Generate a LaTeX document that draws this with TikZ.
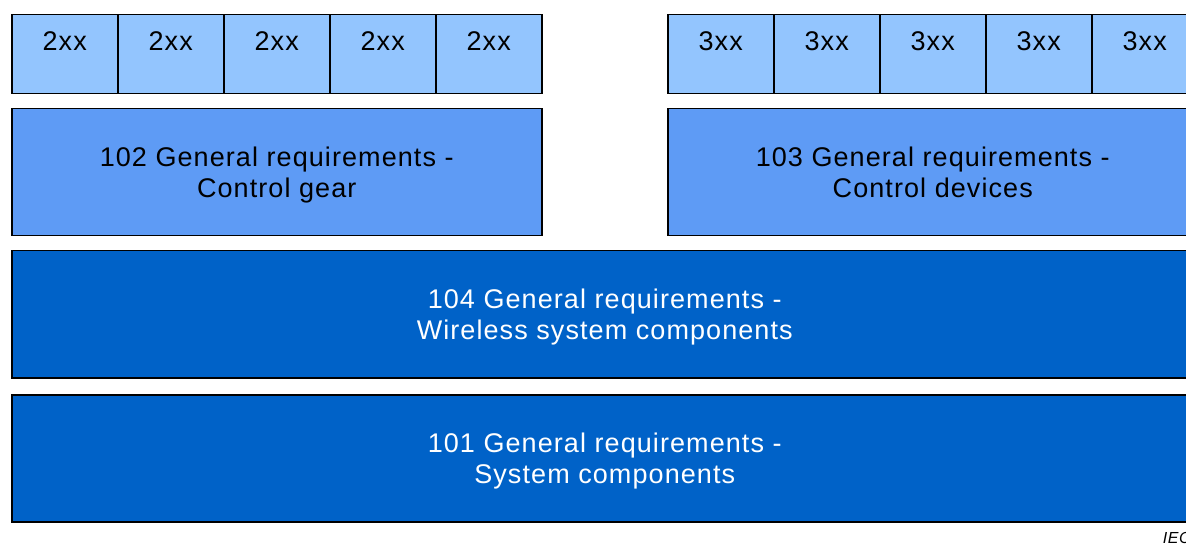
\documentclass[tikz,border=0pt]{standalone}
\usepackage{fontspec}
\setmainfont[LetterSpace=4]{Liberation Sans}
\usepackage{tikz}

\definecolor{cellblue}{RGB}{147,197,254}
\definecolor{genblue}{RGB}{94,155,245}
\definecolor{partblue}{RGB}{0,98,200}

\begin{document}
\begin{tikzpicture}[x = 1pt, y = -1pt, line width = 1.5pt,
                      cell/.style = {draw, fill = cellblue, anchor = north west, inner sep = 0pt,
                                     minimum width = 106pt, text height = 36pt, text depth = 43pt,
                                     font = \fontsize{27}{31}\selectfont},
                      general/.style = {draw, fill = genblue, anchor = north west, align = center,
                                        minimum width = 530pt, minimum height = 127pt, text depth = 0pt,
                                        font = \fontsize{27}{31}\selectfont},
                      part/.style = {draw, fill = partblue, text = white, anchor = north west, align = center,
                                     minimum width = 1186pt, minimum height = 127pt, text depth = 0pt,
                                     font = \fontsize{27}{31}\selectfont}]
    \useasboundingbox (0, 0) rectangle (1186, 545);

    \node [cell] (c21) at (11, 14) {2xx};
    \node [cell] (c22) at (117, 14) {2xx};
    \node [cell] (c23) at (223, 14) {2xx};
    \node [cell] (c24) at (329, 14) {2xx};
    \node [cell] (c25) at (435, 14) {2xx};

    \node [cell] (c31) at (667, 14) {3xx};
    \node [cell] (c32) at (773, 14) {3xx};
    \node [cell] (c33) at (879, 14) {3xx};
    \node [cell] (c34) at (985, 14) {3xx};
    \node [cell] (c35) at (1091, 14) {3xx};

    \node [general] (g102) at (11, 108) {102 General requirements -\\Control gear};
    \node [general] (g103) at (667, 108) {103 General requirements -\\Control devices};

    \node [part] (p104) at (11, 250) {104 General requirements -\\Wireless system components};
    \node [part] (p101) at (11, 394) {101 General requirements -\\System components};

    \node [anchor = base west, inner sep = 0pt, font = \fontsize{16}{18}\selectfont\itshape] (iec) at (1162, 543) {IEC};
\end{tikzpicture}
\end{document}
